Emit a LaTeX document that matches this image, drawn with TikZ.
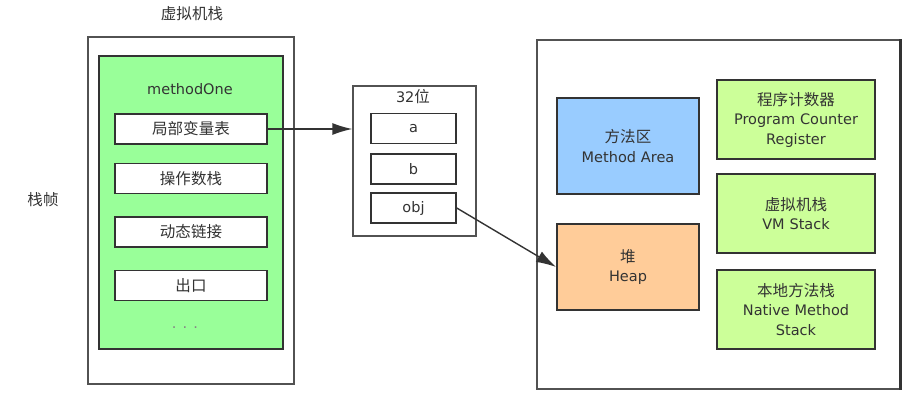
\documentclass[tikz,border=0pt]{standalone}
\usepackage{fontspec}
\setmainfont{DejaVu Sans}
\newfontfamily\cjk[Scale=1.07]{Noto Sans CJK SC}
\usetikzlibrary{arrows.meta}
\definecolor{edge}{HTML}{333333}
\definecolor{framegreen}{HTML}{99FF99}
\definecolor{areablue}{HTML}{99CCFF}
\definecolor{heaporange}{HTML}{FFCC99}
\definecolor{regreen}{HTML}{CCFF99}
\tikzstyle{outerbox} = [draw=edge!85, line width=1.3pt, rectangle, fill=white]
\tikzstyle{slotbox} = [draw=edge, line width=1.6pt, rectangle, fill=white,
    minimum width=152, minimum height=30, inner sep=0]
\tikzstyle{varbox} = [draw=edge, line width=1.5pt, rectangle, fill=white,
    minimum width=85, minimum height=30, inner sep=0]
\tikzstyle{areabox} = [draw=edge, line width=1.8pt, rectangle,
    text width=150, align=center, inner sep=0]
\tikzstyle{lbl} = [text=edge]
\tikzstyle{pointer} = [draw=edge, line width=1.4pt, -{Latex[length=20pt,width=12pt]}]

\begin{document}
\begin{tikzpicture}[x=1pt, y=-1pt, font=\fontsize{14.5}{19.5}\selectfont, text=edge]
    \useasboundingbox (0,0) rectangle (908,401);
    \node [lbl] (title) at (192,14) {\cjk 虚拟机栈};
    \node [lbl] (frame) at (43,200) {\cjk 栈帧};
    \node [outerbox, minimum width=206, minimum height=347] (vmstack) at (191,210.5) {};
    \node [draw=edge, line width=1.6pt, fill=framegreen, minimum width=184,
        minimum height=293] (method) at (191,202.5) {};
    \node [lbl] (methodname) at (190,89) {methodOne};
    \node [slotbox] (locals) at (191,129) {\cjk 局部变量表};
    \node [slotbox] (operands) at (191,178.5) {\cjk 操作数栈};
    \node [slotbox] (dynlink) at (191,232) {\cjk 动态链接};
    \node [slotbox] (exit) at (191,285.5) {\cjk 出口};
    \node [lbl, text=edge!60] (dots) at (185,328) {. . .};

    \node [outerbox, minimum width=123, minimum height=150] (slots) at (414.5,161) {};
    \node [lbl] (bits) at (413,97) {32{\cjk 位}};
    \node [varbox] (vara) at (413.5,128.5) {a};
    \node [varbox] (varb) at (413.5,169) {b};
    \node [varbox] (varobj) at (413.5,208) {obj};

    \node [outerbox, minimum width=363, minimum height=349] (runtime) at (718.5,214.5) {};
    \draw [edge, line width=2.6pt] (runtime.north east) -- (runtime.south east);
    \node [areabox, fill=areablue, minimum width=142, minimum height=96, text width=140]
        (methodarea) at (628,146) {{\cjk 方法区}\\Method Area};
    \node [areabox, fill=heaporange, minimum width=142, minimum height=86, text width=140]
        (heap) at (628,267) {{\cjk 堆}\\Heap};
    \node [areabox, fill=regreen, minimum width=158, minimum height=79]
        (pcreg) at (796,119.5) {{\cjk 程序计数器}\\Program Counter\\Register};
    \node [areabox, fill=regreen, minimum width=158, minimum height=79]
        (vmst) at (796,213.5) {{\cjk 虚拟机栈}\\VM Stack};
    \node [areabox, fill=regreen, minimum width=158, minimum height=79]
        (native) at (796,309.5) {{\cjk 本地方法栈}\\Native Method\\Stack};

    \draw [pointer] (locals.east) -- (slots.west |- locals.east);
    \draw [pointer] (varobj.east) -- (heap.west);
\end{tikzpicture}
\end{document}
